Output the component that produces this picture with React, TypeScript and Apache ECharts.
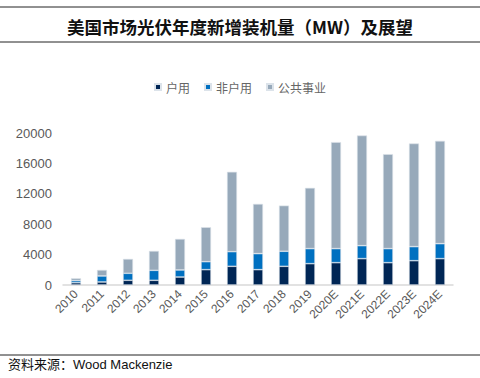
import React, { useEffect, useRef } from "react";
import * as echarts from "echarts";

const years = ["2010","2011","2012","2013","2014","2015","2016","2017","2018","2019","2020E","2021E","2022E","2023E","2024E"];
const residential = [300, 400, 620, 620, 1050, 2020, 2460, 2020, 2460, 2810, 2940, 3470, 2940, 3200, 3470];
const nonResidential = [280, 790, 920, 1310, 930, 1050, 1930, 2110, 1980, 1980, 1850, 1710, 1850, 1850, 1970];
const utility = [300, 790, 1890, 2550, 4080, 4530, 10500, 6540, 6010, 7990, 14010, 14490, 12430, 13570, 13530];
const seriesNames = ["户用", "非户用", "公共事业"];
const yTicks = [0, 4000, 8000, 12000, 16000, 20000];

export default function App() {
  const ref = useRef<HTMLDivElement>(null);
  useEffect(() => {
    const chart = echarts.init(ref.current!, null, { renderer: "svg" });
    const colors = ["#002655", "#0070c0", "#97a9ba"];
    const data = [residential, nonResidential, utility];
    chart.setOption({
      animation: false,
      backgroundColor: "#ffffff",
      title: {
        text: "美国市场光伏年度新增装机量（MW）及展望",
        left: "center",
        top: 13,
        textStyle: { fontFamily: "Noto Sans CJK SC", fontSize: 17.5, fontWeight: "bold", color: "#111111" },
      },
      graphic: [
        { type: "line", shape: { x1: 0, y1: 7, x2: 480, y2: 7 }, style: { stroke: "#222", lineWidth: 1 } },
        { type: "line", shape: { x1: 0, y1: 42, x2: 480, y2: 42 }, style: { stroke: "#222", lineWidth: 1 } },
        { type: "line", shape: { x1: 0, y1: 355, x2: 480, y2: 355 }, style: { stroke: "#222", lineWidth: 1 } },
        {
          type: "text", left: 8, top: 358,
          style: { text: "资料来源：Wood Mackenzie", font: "13px 'Liberation Sans', 'Noto Sans CJK SC'", fill: "#111" },
        },
      ],
      legend: {
        top: 76,
        left: "center",
        itemWidth: 6,
        itemHeight: 6,
        itemGap: 14,
        icon: "rect",
        textStyle: { fontFamily: "Noto Sans CJK SC", fontSize: 12, color: "#666666" },
        data: seriesNames,
      },
      grid: { left: 63, right: 27, top: 133, bottom: 93, containLabel: false },
      xAxis: {
        type: "category",
        data: years,
        axisLine: { lineStyle: { color: "#d9d9d9", width: 1.5 } },
        axisTick: { show: false },
        axisLabel: { rotate: 45, fontSize: 12, color: "#595959", fontFamily: "Liberation Sans", margin: 7, interval: 0 },
      },
      yAxis: {
        type: "value",
        min: 0,
        max: 20000,
        interval: 4000,
        axisLine: { show: false },
        axisTick: { show: false },
        splitLine: { show: false },
        axisLabel: { fontSize: 13, color: "#595959", fontFamily: "Liberation Sans", margin: 11,
          formatter: (v: number) => (yTicks.includes(v) ? String(v) : "") },
      },
      series: seriesNames.map((name, i) => ({
        name,
        type: "bar",
        stack: "total",
        barWidth: 10,
        data: data[i],
        itemStyle: { color: colors[i], borderColor: "#dce3ea", borderWidth: 0.6 },
      })),
    });
    return () => chart.dispose();
  }, []);
  return <div ref={ref} style={{ width: 480, height: 378, position: "absolute", left: 0, top: 0 }} />;
}
